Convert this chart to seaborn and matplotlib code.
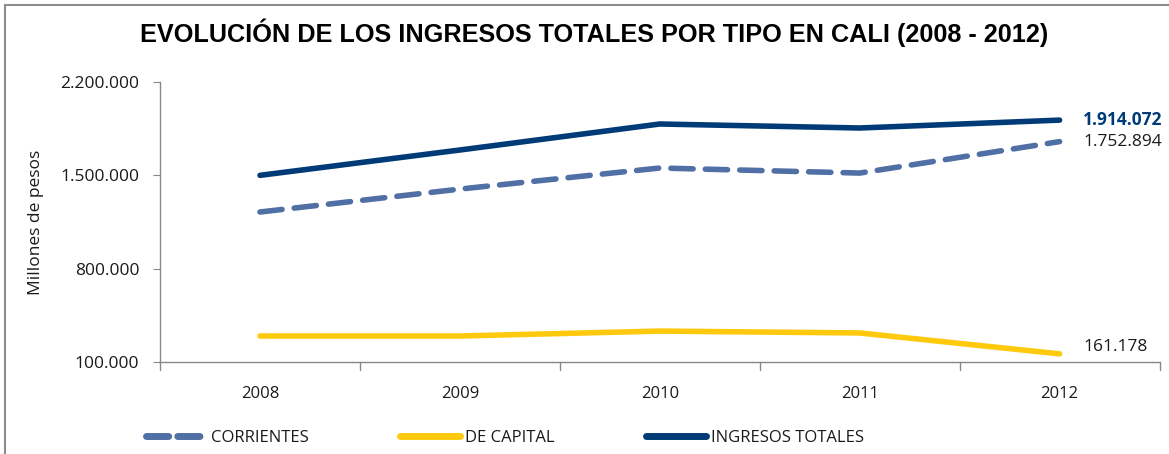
import numpy as np
import matplotlib.pyplot as plt
from matplotlib.patches import Rectangle
from matplotlib.lines import Line2D
import seaborn as sns
import pandas as pd

# ------------------------------------------ Data ------------------------------------------ #
years = ['2008', '2009', '2010', '2011', '2012']
corrientes = [1225000, 1397000, 1555000, 1517000, 1752894]
capital = [295000, 295000, 332000, 318000, 161178]
totales = [1500000, 1690000, 1885000, 1855000, 1914072]
series_names = ['CORRIENTES', 'DE CAPITAL', 'INGRESOS TOTALES']
y_ticks = [100000, 800000, 1500000, 2200000]

azul_claro = "#4F6FA5"
amarillo = "#FFC90E"
azul_osc = "#003B78"
texto = "#1a1a1a"

def fmt(v):
    return f"{v:,.0f}".replace(',', '.')

df = pd.DataFrame({
    'Año': years * 3,
    'Valor': corrientes + capital + totales,
    'Serie': [series_names[0]] * 5 + [series_names[1]] * 5 + [series_names[2]] * 5,
})

sns.set_style('white')
plt.rcParams['font.family'] = ['Open Sans', 'DejaVu Sans']

fig = plt.figure(figsize=(11.69, 4.54), dpi=100)
ax = fig.add_axes([0.1369, 0.2026, 0.855, 0.6168])

palette = {series_names[0]: azul_claro, series_names[1]: amarillo, series_names[2]: azul_osc}
dashes = {series_names[0]: (4, 2.2), series_names[1]: '', series_names[2]: ''}
sns.lineplot(data=df, x='Año', y='Valor', hue='Serie', style='Serie', palette=palette,
             dashes=dashes, linewidth=4, legend=False, ax=ax, sort=False)
for ln in ax.get_lines():
    ln.set_solid_capstyle('round')
    ln.set_dash_capstyle('round')

ax.set_xlim(-0.5, 4.5)
ax.set_ylim(100000, 2200000)
ax.set_yticks(y_ticks)
ax.set_yticklabels([fmt(v) for v in y_ticks], fontsize=12.5, color=texto)
ax.set_xticks(range(5))
ax.set_xticklabels(years, fontsize=12, color=texto)
ax.tick_params(axis='x', length=0, pad=17)
ax.tick_params(axis='y', length=5, color='#888888', left=True, pad=10)
# ticks between categories
for b in np.arange(-0.5, 5, 1):
    ax.plot([b, b], [0, -0.03], transform=ax.get_xaxis_transform(), color='#888888',
            linewidth=1, clip_on=False)

for s in ['top', 'right']:
    ax.spines[s].set_visible(False)
for s in ['left', 'bottom']:
    ax.spines[s].set_color('#888888')
    ax.spines[s].set_linewidth(1)

ax.set_xlabel('')
ax.set_ylabel('Millones de pesos', fontsize=12.5, color=texto, labelpad=12)

# labels on last point
ax.annotate(fmt(totales[-1]), (4, totales[-1]), xytext=(17, 0), textcoords='offset points',
            va='center', ha='left', fontsize=12.5, fontweight='bold', color=azul_osc,
            annotation_clip=False)
ax.annotate(fmt(corrientes[-1]), (4, corrientes[-1]), xytext=(17, 0), textcoords='offset points',
            va='center', ha='left', fontsize=12.5, color=texto, annotation_clip=False)
ax.annotate(fmt(capital[-1]), (4, capital[-1]), xytext=(17, 5), textcoords='offset points',
            va='center', ha='left', fontsize=12.5, color=texto, annotation_clip=False)

fig.suptitle('EVOLUCIÓN DE LOS INGRESOS TOTALES POR TIPO EN CALI (2008 - 2012)',
             x=0.508, y=0.96, fontsize=18.2, fontweight='bold', color='black',
             family=['Liberation Sans', 'DejaVu Sans'])

handles = [Line2D([], [], color=azul_claro, linewidth=5, dashes=(3.2, 1.3), dash_capstyle='round'),
           Line2D([], [], color=amarillo, linewidth=5, solid_capstyle='round'),
           Line2D([], [], color=azul_osc, linewidth=5, solid_capstyle='round')]
fig.legend(handles, series_names, loc='center', bbox_to_anchor=(0.432, 0.035), ncol=3,
           frameon=False, fontsize=12, handlelength=3.6, handletextpad=0.3, columnspacing=5.5,
           labelcolor=texto)

fig.patches.append(Rectangle((0.004, -0.01), 1.1, 1.0, transform=fig.transFigure,
                             fill=False, edgecolor='#8c8c8c', linewidth=1.5))

fig.savefig('out.png', dpi=100)
